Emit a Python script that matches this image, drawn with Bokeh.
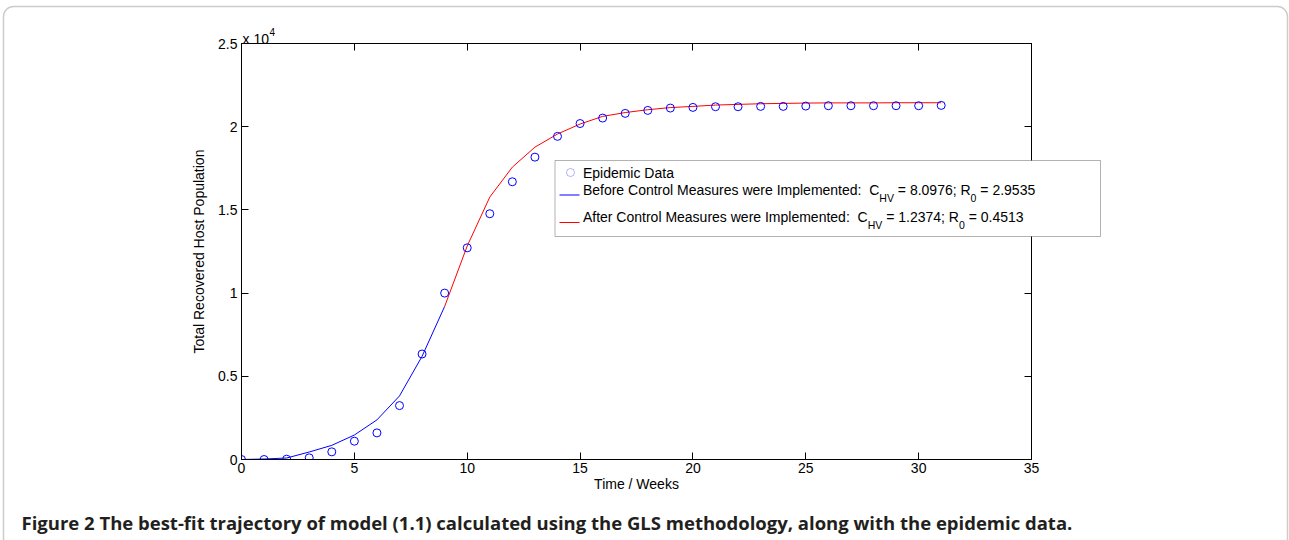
from bokeh.plotting import figure
from bokeh.models import (Range1d, LinearAxis, FixedTicker, Label, BoxAnnotation,
                          CustomJSTickFormatter)
from bokeh.embed import file_html
from bokeh.resources import INLINE

# ---------------- data ----------------
weeks = list(range(32))
epidemic_data = [0, 0, 20, 100, 460, 1100, 1600, 3240, 6340, 10000,
                 12720, 14770, 16690, 18170, 19420, 20190, 20520, 20800,
                 20980, 21120, 21160, 21200, 21200, 21220, 21220, 21240,
                 21260, 21260, 21260, 21260, 21260, 21280]
before_weeks = list(range(10))
before_fit = [0, 30, 90, 450, 850, 1470, 2380, 3820, 6200, 9200]
after_weeks = list(range(9, 32))
after_fit = [9200, 12830, 15770, 17570, 18770, 19560, 20160, 20620, 20850,
             21020, 21150, 21220, 21300, 21340, 21380, 21400, 21420, 21430,
             21430, 21430, 21440, 21440, 21440]
x_ticks = [0, 5, 10, 15, 20, 25, 30, 35]
y_ticks = [0, 5000, 10000, 15000, 20000, 25000]
y_tick_labels = ["0", "0.5", "1", "1.5", "2", "2.5"]

W, H = 1289, 540
FL, FT, FR, FB = 241, 43, 1031, 459
FONT = "Liberation Sans"

# ---------------- main plot ----------------
p = figure(width=W, height=H, x_range=Range1d(0, 35), y_range=Range1d(0, 25000),
           output_backend="svg", toolbar_location=None,
           min_border_left=FL, min_border_right=W - FR,
           min_border_top=FT, min_border_bottom=H - FB)
p.grid.visible = False
p.outline_line_color = "black"
p.background_fill_color = "white"
p.border_fill_color = "white"

bx = p.below[0]
ly = p.left[0]
tx = LinearAxis(formatter=CustomJSTickFormatter(code="return ''"))
ry = LinearAxis(formatter=CustomJSTickFormatter(code="return ''"))
p.add_layout(tx, "above")
p.add_layout(ry, "right")
for ax in (bx, ly, tx, ry):
    ax.major_tick_in = 7
    ax.major_tick_out = 0
    ax.minor_tick_in = 0
    ax.minor_tick_out = 0
    ax.axis_line_color = "black"
    ax.major_tick_line_color = "black"
    ax.major_label_text_font = FONT
    ax.major_label_text_font_size = "14px"
    ax.major_label_text_color = "black"
    ax.axis_label_text_font = FONT
    ax.axis_label_text_font_size = "14px"
    ax.axis_label_text_font_style = "normal"
    ax.axis_label_text_color = "black"

bx.ticker = FixedTicker(ticks=x_ticks)
tx.ticker = FixedTicker(ticks=x_ticks)
ly.ticker = FixedTicker(ticks=y_ticks)
ry.ticker = FixedTicker(ticks=y_ticks)
ly.major_label_overrides = dict(zip(y_ticks, y_tick_labels))
bx.major_label_standoff = 3
ly.major_label_standoff = 4
bx.axis_label = "Time / Weeks"
bx.axis_label_standoff = 0
ly.axis_label = "Total Recovered Host Population"
ly.axis_label_standoff = 8

p.line(before_weeks, before_fit, line_color="#0000ff", line_width=1)
p.line(after_weeks, after_fit, line_color="#ff0000", line_width=1)
p.scatter(weeks, epidemic_data, marker="circle", size=8, line_color="#0000ff",
          fill_color=None, line_width=1)

# ---------------- transparent overlay for legend, caption, frame ----------------
ov = figure(width=W, height=H, x_range=Range1d(0, W), y_range=Range1d(0, H),
            output_backend="svg", toolbar_location=None, min_border=0,
            x_axis_type=None, y_axis_type=None)
ov.outline_line_color = None
ov.background_fill_color = None
ov.border_fill_color = None
ov.styles = {"position": "absolute", "left": "0px", "top": "0px"}


def txt(X, Y, s, size="14px", style="normal", font=FONT, color="black", base="middle"):
    ov.add_layout(Label(x=X, y=H - Y, x_units="screen", y_units="screen", text=s,
                        text_font=font, text_font_size=size, text_font_style=style,
                        text_color=color, text_baseline=base, text_align="left",
                        level="overlay"))


def box(l, r, t, b, **kw):
    ov.add_layout(BoxAnnotation(left=l, right=r, top=H - t, bottom=H - b,
                                left_units="screen", right_units="screen",
                                top_units="screen", bottom_units="screen",
                                level="annotation", **kw))


# Arial / Liberation Sans advance widths (1/1000 em) for laying out legend pieces
ADV = {" ": 278, "=": 584, ".": 278, ";": 278, ":": 278, "C": 722, "R": 722, "H": 722,
       "V": 667, "B": 667, "M": 833, "I": 278, "A": 667, "E": 667, "D": 722,
       "a": 556, "c": 500, "d": 556, "e": 556, "f": 278, "l": 222, "m": 833, "n": 556,
       "o": 556, "p": 556, "r": 333, "s": 500, "t": 278, "u": 556, "w": 722, "i": 222}


def adv(s, px):
    return sum(ADV.get(ch, 556) for ch in s) * px / 1000.0


def legend_row(X0, Y, parts):
    x = X0
    for s, sub in parts:
        px = 10.5 if sub else 14
        lead = len(s) - len(s.lstrip(" "))
        x += adv(" " * lead, px)
        body = s.strip(" ")
        txt(x, Y + (8 if sub else 0), body, size=f"{px}px")
        x += adv(s[lead:], px)


# outer rounded frame
box(3, 1287, 6, 580, fill_alpha=0, line_color="#555555", line_width=1.5, border_radius=10)

# exponent
txt(242, 38, "x 10")
txt(269, 31, "4", size="10px")

# legend box and icons
box(554.5, 1100, 160, 236, fill_color="white", fill_alpha=1, line_color="black", line_width=1)
box(566, 574, 168, 176, fill_alpha=0, line_color="#0000ff", line_width=1, border_radius=4)
box(559, 579, 194, 195, fill_color="#0000ff", fill_alpha=1, line_alpha=0)
box(559, 579, 221.5, 222.5, fill_color="#ff0000", fill_alpha=1, line_alpha=0)

txt(582.4, 172, "Epidemic Data")
legend_row(582.4, 189, [("Before Control Measures were Implemented:  ", False), ("C", False),
                        ("HV", True), (" = 8.0976; R", False), ("0", True),
                        (" = 2.9535", False)])
legend_row(582.4, 216.5, [("After Control Measures were Implemented:  ", False), ("C", False),
                          ("HV", True), (" = 1.2374; R", False), ("0", True),
                          (" = 0.4513", False)])

# caption
txt(21, 521.7, "Figure 2 The best-fit trajectory of model (1.1) calculated using the GLS "
    "methodology, along with the epidemic data.", size="18.5px", style="bold",
    font="Open Sans", color="#231f20", base="alphabetic")

open("out.html", "w").write(file_html([p, ov], INLINE))
